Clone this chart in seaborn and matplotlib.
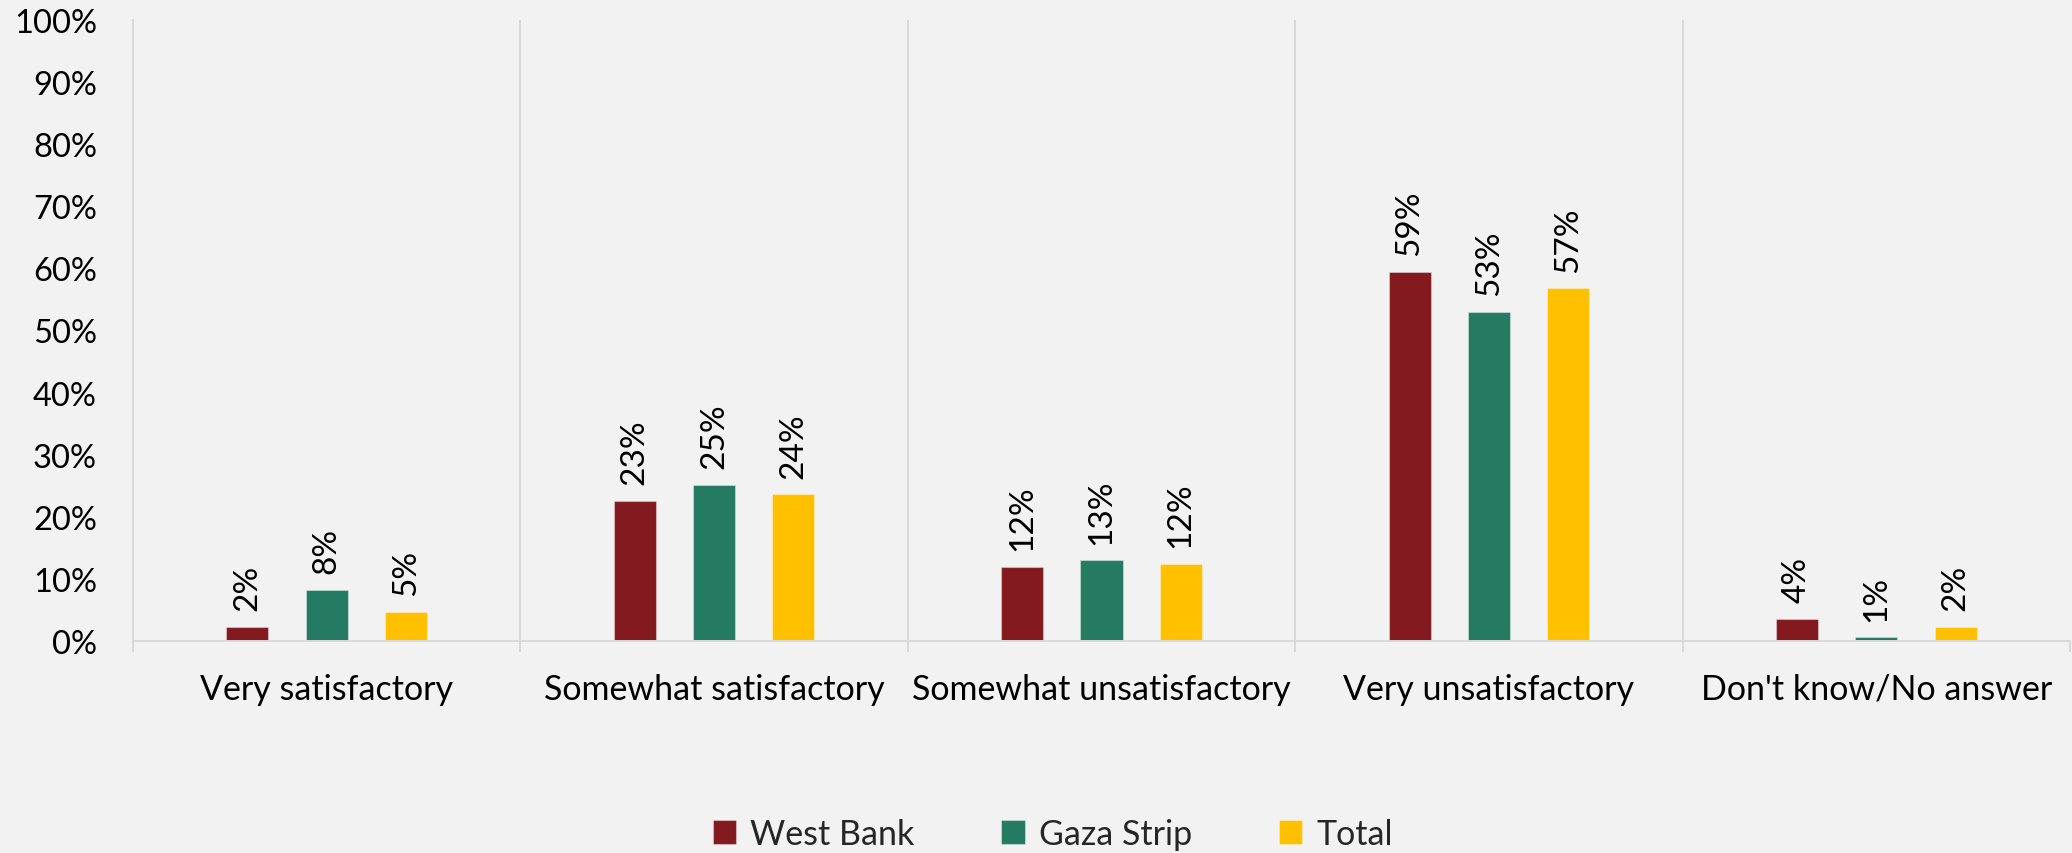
import matplotlib
matplotlib.use("Agg")
import matplotlib.pyplot as plt
import seaborn as sns
import pandas as pd

categories = ["Very satisfactory", "Somewhat satisfactory", "Somewhat unsatisfactory",
              "Very unsatisfactory", "Don't know/No answer"]
series_names = ["West Bank", "Gaza Strip", "Total"]
west_bank = [2.3, 22.6, 11.9, 59.4, 3.6]
gaza_strip = [8.2, 25.1, 13.0, 53.0, 0.6]
total = [4.7, 23.6, 12.4, 56.8, 2.3]
y_ticks = [0, 10, 20, 30, 40, 50, 60, 70, 80, 90, 100]
y_tick_labels = ["0%", "10%", "20%", "30%", "40%", "50%", "60%", "70%", "80%", "90%", "100%"]
colors = ["#831A1F", "#257A62", "#FFC000"]

rows = []
for name, vals in zip(series_names, [west_bank, gaza_strip, total]):
    for c, v in zip(categories, vals):
        rows.append({"category": c, "series": name, "value": v})
df = pd.DataFrame(rows)

sns.set_theme(style="white")
FONT = ["Lato", "DejaVu Sans"]
plt.rcParams["font.family"] = FONT

BG = "#F2F2F2"
GRID = "#D9D9D9"
fig = plt.figure(figsize=(20.72, 8.54), dpi=100, facecolor=BG)
ax = fig.add_axes([133/2072, 1-642/854, (2070-133)/2072, (642-21)/854])
ax.set_facecolor(BG)

sns.barplot(data=df, x="category", y="value", hue="series", order=categories,
            hue_order=series_names, palette=colors, width=0.614, gap=0.47,
            saturation=1, edgecolor=(1, 1, 1, 0.35), linewidth=0.8, ax=ax, legend=True)

for cont in ax.containers:
    ax.bar_label(cont, fmt="{:.0f}%", rotation=90, padding=12, fontsize=24, color="black")

ax.set_ylim(0, 100)
ax.set_xlim(-0.5, 4.5)
ax.set_yticks(y_ticks)
ax.set_yticklabels(y_tick_labels)
ax.set_xlabel("")
ax.set_ylabel("")

for s in ["top", "right"]:
    ax.spines[s].set_visible(False)
for s in ["left", "bottom"]:
    ax.spines[s].set_color(GRID)
    ax.spines[s].set_linewidth(1.4)

for xb in [0.5, 1.5, 2.5, 3.5]:
    ax.axvline(xb, color=GRID, lw=1.4, zorder=0)

ax.tick_params(axis="y", length=8, width=1.4, color=GRID, pad=18, labelsize=23.5, labelcolor="black")
ax.tick_params(axis="x", length=0, pad=23, labelsize=24.5, labelcolor="black")
ax.set_xticks([-0.5, 0.5, 1.5, 2.5, 3.5, 4.5], minor=True)
ax.tick_params(axis="x", which="minor", length=8, width=1.4, color=GRID, bottom=True)
ax.spines["left"].set_bounds(0, 100)

leg = ax.get_legend()
handles, labels = ax.get_legend_handles_labels()
leg.remove()
fig.legend(handles, labels, loc="center", bbox_to_anchor=(0.508, 0.022), ncol=3,
           frameon=False, fontsize=24.5, handlelength=0.7, handleheight=0.7,
           handletextpad=0.4, columnspacing=2.55)

fig.savefig("out.png", dpi=100, facecolor=BG)
